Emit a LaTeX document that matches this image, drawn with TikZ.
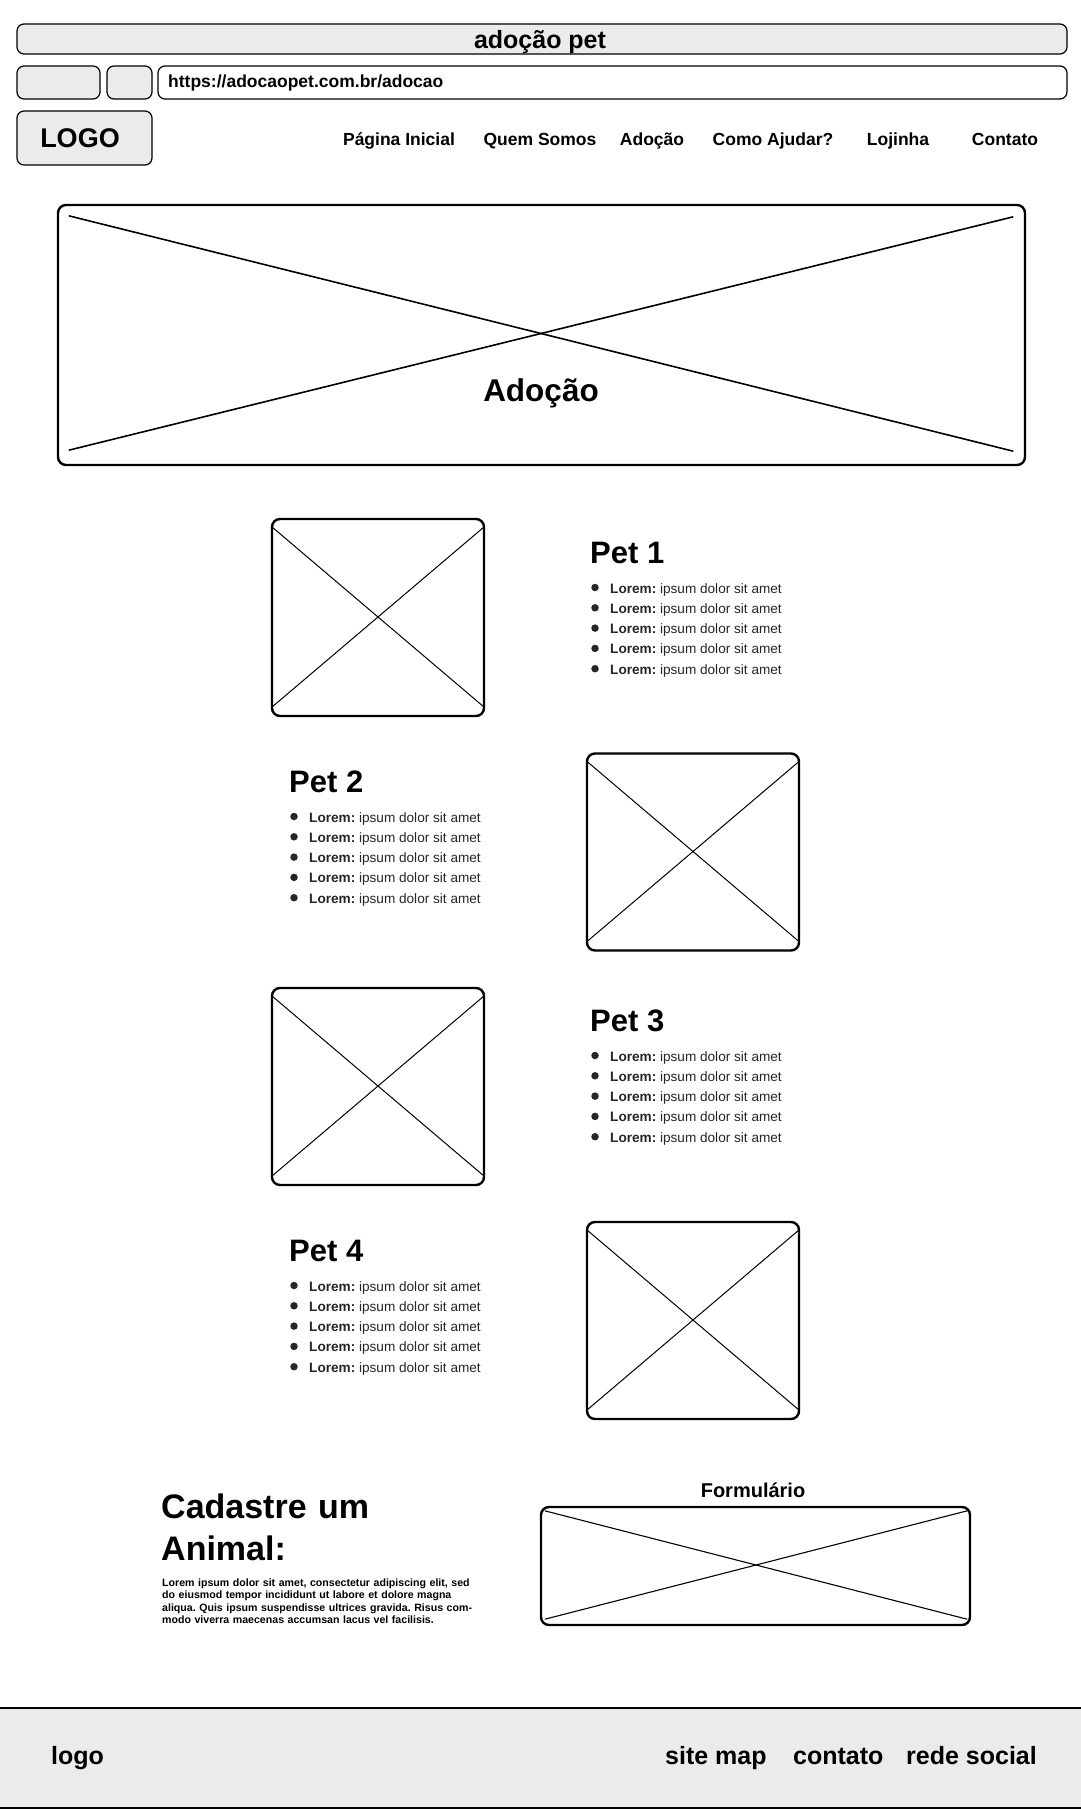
\documentclass[tikz,border=0pt]{standalone}
\usepackage{fontspec}
\setmainfont{Liberation Sans}
\usepackage{tikz}
\usetikzlibrary{positioning}
\definecolor{cinza}{HTML}{EBEBEB}
\frenchspacing
\tikzstyle{barra}=[draw,rounded corners=7pt,fill=cinza,line width=1.2pt,inner sep=0pt]
\tikzstyle{campo}=[draw,rounded corners=7pt,fill=white,line width=1.2pt,inner sep=0pt]
\tikzstyle{quadro}=[draw,rounded corners=8pt,line width=2.4pt,inner sep=0pt]
\tikzstyle{cruz}=[line width=1pt]
\tikzstyle{menu}=[font=\fontsize{17.5}{21}\selectfont\bfseries,anchor=base,inner sep=0pt]
\tikzstyle{titulo}=[font=\fontsize{31}{36}\selectfont\bfseries,anchor=base west,inner sep=0pt]
\tikzstyle{item}=[font=\fontsize{13.6}{16}\selectfont,text=black!85,anchor=base west,inner sep=0pt]
\tikzstyle{ponto}=[circle,fill=black!85,inner sep=0pt,minimum size=7.5pt]
\tikzstyle{rodape}=[font=\fontsize{25}{30}\selectfont\bfseries,anchor=base west,inner sep=0pt]

\begin{document}
\begin{tikzpicture}[x=1pt,y=-1pt]
\useasboundingbox (0,0) rectangle (1080,1809);
%Cabecalho
\node[barra,minimum width=1050pt,minimum height=30pt] (janela) at (542,39) {};
\node[font=\fontsize{25}{30}\selectfont\bfseries,anchor=base,inner sep=0pt] (nome) at (540,49) {adoção pet};
\node[barra,minimum width=83pt,minimum height=33pt] (voltar) at (58.5,82.5) {};
\node[barra,minimum width=45pt,minimum height=33pt] (avancar) at (129.5,82.5) {};
\node[campo,minimum width=909pt,minimum height=33pt] (endereco) at (612.5,82.5) {};
\node[font=\fontsize{17.5}{21}\selectfont\bfseries,anchor=base west,inner sep=0pt] (url) at (168,88) {https://adocaopet.com.br/adocao};
\node[barra,minimum width=135pt,minimum height=54pt] (logo) at (84.5,138) {};
\node[font=\fontsize{27}{32}\selectfont\bfseries,anchor=base,inner sep=0pt] (logotxt) at (80,147) {LOGO};
\foreach \x/\t in {399/Página Inicial,540/Quem Somos,652/Adoção,773/Como Ajudar?,898/Lojinha,1005/Contato}
  \node[menu] (m\x) at (\x,146) {\t};
%Banner
\node[quadro,minimum width=967pt,minimum height=260pt] (banner) at (541.5,335) {};
\draw[line width=1.6pt] ([shift={(12,12)}]banner.north west) -- ([shift={(-13,-15)}]banner.south east);
\draw[line width=1.6pt] ([shift={(-13,13)}]banner.north east) -- ([shift={(12,-16)}]banner.south west);
\node[font=\fontsize{31.5}{36}\selectfont\bfseries,anchor=base,inner sep=0pt] (bannertxt) at (541,401) {Adoção};
%Pets
\foreach \n/\ix/\iy/\tx/\ty in {1/378/617.5/590/563,2/693/852/289/792,3/378/1086.5/590/1031,4/693/1320.5/289/1261}{
  \node[quadro,minimum width=212pt,minimum height=197pt] (foto\n) at (\ix,\iy) {};
  \draw[cruz] ([shift={(1,9)}]foto\n.north west) -- ([shift={(-1,-10)}]foto\n.south east);
  \draw[cruz] ([shift={(-1,9)}]foto\n.north east) -- ([shift={(1,-10)}]foto\n.south west);
  \node[titulo] (pet\n) at (\tx,\ty) {Pet \n};
  \foreach \k in {1,...,5}{
    \node[ponto] (bola\n\k) at (\tx+5,\ty+30+20.3*\k-20.3-5.5) {};
    \node[item] (linha\n\k) at (\tx+20,\ty+30+20.3*\k-20.3) {\textbf{Lorem:} ipsum dolor sit amet};
  }
}
%Cadastro
\node[font=\fontsize{34}{42}\selectfont\bfseries,anchor=base west,text width=320pt,align=left,inner sep=0pt] (cadastro) at (161,1518) {Cadastre um\\Animal:};
\node[font=\fontsize{10.6}{12.6}\selectfont\bfseries,anchor=base west,text width=330pt,align=left,inner sep=0pt] (texto) at (162,1586) {Lorem ipsum dolor sit amet, consectetur adipiscing elit, sed\\do eiusmod tempor incididunt ut labore et dolore magna\\aliqua. Quis ipsum suspendisse ultrices gravida. Risus com-\\modo viverra maecenas accumsan lacus vel facilisis.};
\node[font=\fontsize{20}{24}\selectfont\bfseries,anchor=base,inner sep=0pt] (formtxt) at (753,1497) {Formulário};
\node[quadro,minimum width=429pt,minimum height=118pt] (form) at (755.5,1566) {};
\draw[line width=1.1pt] ([shift={(5,5)}]form.north west) -- ([shift={(-4,-7)}]form.south east);
\draw[line width=1.1pt] ([shift={(-4,5)}]form.north east) -- ([shift={(5,-7)}]form.south west);
%Rodape
\node[draw,fill=cinza,line width=1.2pt,minimum width=1090pt,minimum height=100pt,inner sep=0pt] (base) at (540,1758) {};
\node[rodape] (rlogo) at (51,1764) {logo};
\node[rodape] (mapa) at (665,1764) {site map};
\node[rodape] (contato) at (793,1764) {contato};
\node[rodape] (social) at (906,1764) {rede social};
\end{tikzpicture}
\end{document}
